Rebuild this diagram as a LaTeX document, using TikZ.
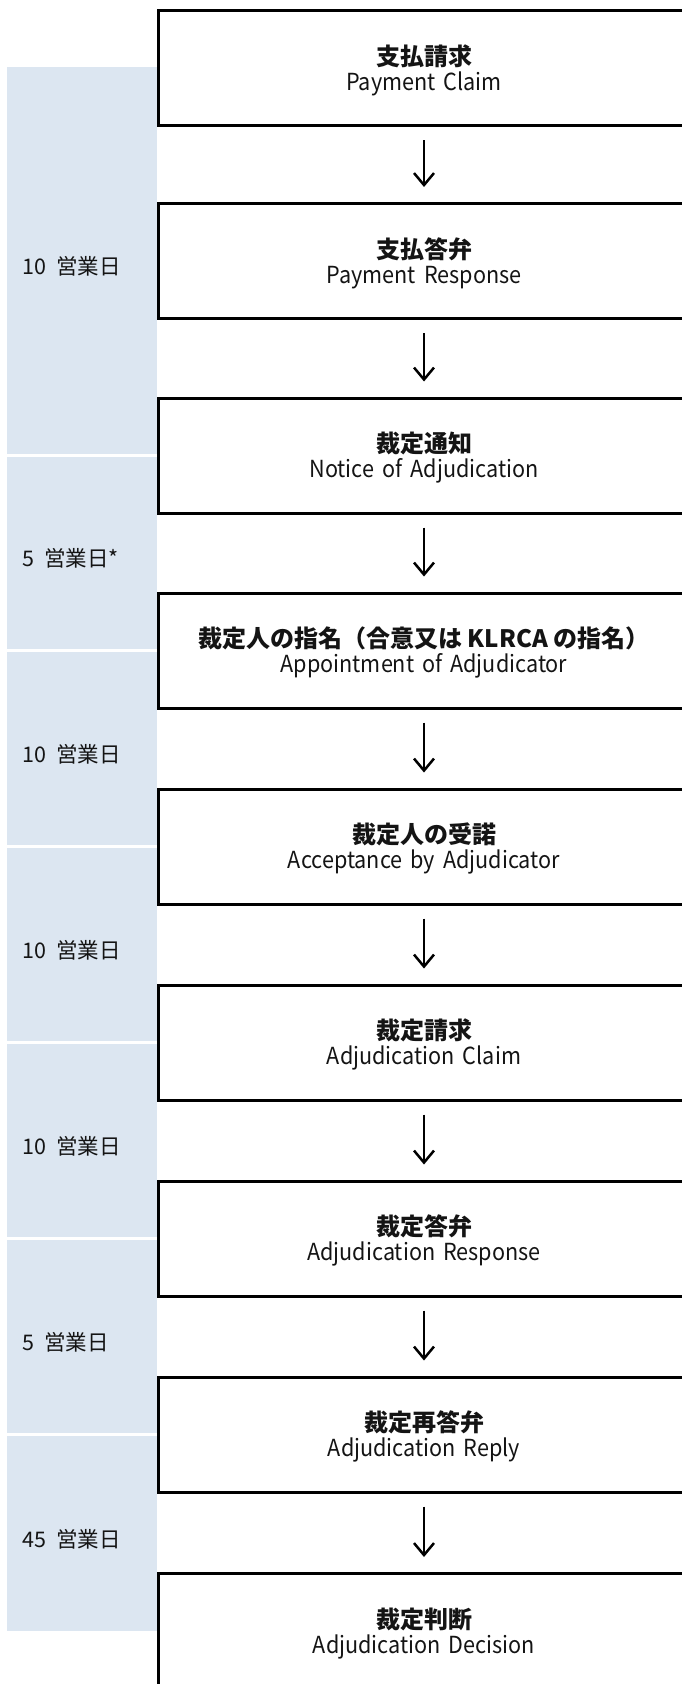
\documentclass[tikz,border=0pt]{standalone}
\usepackage{fontspec}
\setmainfont{Noto Sans CJK JP}
\newfontfamily\enfam[FakeStretch=0.92]{Noto Sans CJK JP}
\usetikzlibrary{arrows.meta,calc}
\definecolor{bandblue}{RGB}{220,230,241}
\definecolor{inkblack}{RGB}{20,20,20}
\newcommand{\enfont}{\enfam\fontsize{23.5}{26}\selectfont\spaceskip 8pt\relax}
\newcommand{\dayfont}{\fontsize{21.5}{24}\selectfont\spaceskip 10pt\relax}
\begin{document}
\begin{tikzpicture}[x=1pt,y=-1pt,
  stepbox/.style={draw=black, line width=3pt, minimum width=531pt, minimum height=115pt, inner sep=0pt},
  jatitle/.style={anchor=base, inner sep=0pt, text=inkblack, font=\fontsize{24}{26}\selectfont\bfseries},
  entitle/.style={anchor=base, inner sep=0pt, text=inkblack, font=\enfont},
  band/.style={fill=bandblue, draw=none},
  daylabel/.style={anchor=base west, inner sep=0pt, text=inkblack, font=\dayfont},
  flow/.style={line width=2pt, -{Straight Barb[length=12pt,width=20pt,line width=2.5pt]},
    shorten <=13pt, shorten >=15pt}]
\useasboundingbox (0,0) rectangle (682,1684);
\clip (0,0) rectangle (682,1684);
% bands
\fill[band] (7,67) rectangle (157,454);
\fill[band] (7,457) rectangle (157,649);
\fill[band] (7,652) rectangle (157,845);
\fill[band] (7,848) rectangle (157,1041);
\fill[band] (7,1044) rectangle (157,1237);
\fill[band] (7,1240) rectangle (157,1433);
\fill[band] (7,1436) rectangle (157,1631);
\node[daylabel] (d1) at (22,274) {10 営業日};
\node[daylabel] (d2) at (22,566.5) {5 営業日*};
\node[daylabel] (d3) at (22,762) {10 営業日};
\node[daylabel] (d4) at (22,958) {10 営業日};
\node[daylabel] (d5) at (22,1154) {10 営業日};
\node[daylabel] (d6) at (22,1350) {5 営業日};
\node[daylabel] (d7) at (22,1547) {45 営業日};
% boxes
\node[stepbox] (b1) at (424,68) {};
\node[stepbox] (b2) at (424,261) {};
\node[stepbox] (b3) at (424,455.5) {};
\node[stepbox] (b4) at (424,650.5) {};
\node[stepbox] (b5) at (424,846.5) {};
\node[stepbox] (b6) at (424,1042.5) {};
\node[stepbox] (b7) at (424,1238.5) {};
\node[stepbox] (b8) at (424,1434.5) {};
\node[stepbox] (b9) at (424,1631) {};
% box texts
\node[jatitle] (j1) at ($(b1.center)+(0,-3)$) {支払請求};
\node[entitle] (e1) at ($(b1.center)+(0,22)$) {Payment Claim};
\node[jatitle] (j2) at ($(b2.center)+(0,-3)$) {支払答弁};
\node[entitle] (e2) at ($(b2.center)+(0,22)$) {Payment Response};
\node[jatitle] (j3) at ($(b3.center)+(0,-3)$) {裁定通知};
\node[entitle] (e3) at ($(b3.center)+(0,22)$) {Notice of Adjudication};
\node[jatitle] (j4) at ($(b4.center)+(0,-3)$) {裁定人の指名（合意又は KLRCA の指名）};
\node[entitle] (e4) at ($(b4.center)+(0,22)$) {Appointment of Adjudicator};
\node[jatitle] (j5) at ($(b5.center)+(0,-3)$) {裁定人の受諾};
\node[entitle] (e5) at ($(b5.center)+(0,22)$) {Acceptance by Adjudicator};
\node[jatitle] (j6) at ($(b6.center)+(0,-3)$) {裁定請求};
\node[entitle] (e6) at ($(b6.center)+(0,22)$) {Adjudication Claim};
\node[jatitle] (j7) at ($(b7.center)+(0,-3)$) {裁定答弁};
\node[entitle] (e7) at ($(b7.center)+(0,22)$) {Adjudication Response};
\node[jatitle] (j8) at ($(b8.center)+(0,-3)$) {裁定再答弁};
\node[entitle] (e8) at ($(b8.center)+(0,22)$) {Adjudication Reply};
\node[jatitle] (j9) at ($(b9.center)+(0,-3)$) {裁定判断};
\node[entitle] (e9) at ($(b9.center)+(0,22)$) {Adjudication Decision};
% arrows
\draw[flow] (b1.south) -- (b2.north);
\draw[flow] (b2.south) -- (b3.north);
\draw[flow] (b3.south) -- (b4.north);
\draw[flow] (b4.south) -- (b5.north);
\draw[flow] (b5.south) -- (b6.north);
\draw[flow] (b6.south) -- (b7.north);
\draw[flow] (b7.south) -- (b8.north);
\draw[flow] (b8.south) -- (b9.north);
\end{tikzpicture}
\end{document}
